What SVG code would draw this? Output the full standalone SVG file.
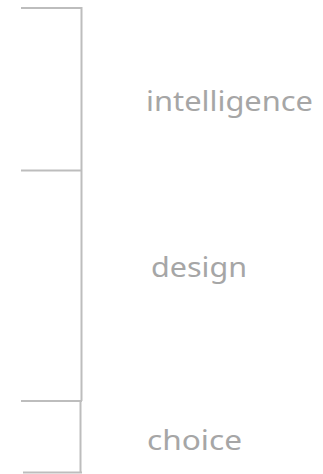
<svg xmlns="http://www.w3.org/2000/svg" width="323" height="474" viewBox="0 0 323 474">
<style>
.ln{stroke:#BDBDBD;stroke-width:2;fill:none}
.lb{font-family:"Noto Sans","DejaVu Sans",sans-serif;font-size:28px;font-weight:400;fill:#A6A6A6}
</style>
<rect width="323" height="474" fill="#FFFFFF"/>
<g id="connectors">
<path class="ln" d="M21 8H81.5V401"/>
<path class="ln" d="M21 170.5H81.5"/>
<path class="ln" d="M21 401H82"/>
<path class="ln" d="M80.5 401V472.5"/>
<path class="ln" d="M23 472.5H82"/>
</g>
<g id="intelligence"><text class="lb" x="146" y="111" textLength="167" lengthAdjust="spacingAndGlyphs">intelligence</text></g>
<g id="design"><text class="lb" x="151" y="277" textLength="96" lengthAdjust="spacingAndGlyphs">design</text></g>
<g id="choice"><text class="lb" x="147" y="450" textLength="95" lengthAdjust="spacingAndGlyphs">choice</text></g>
</svg>
